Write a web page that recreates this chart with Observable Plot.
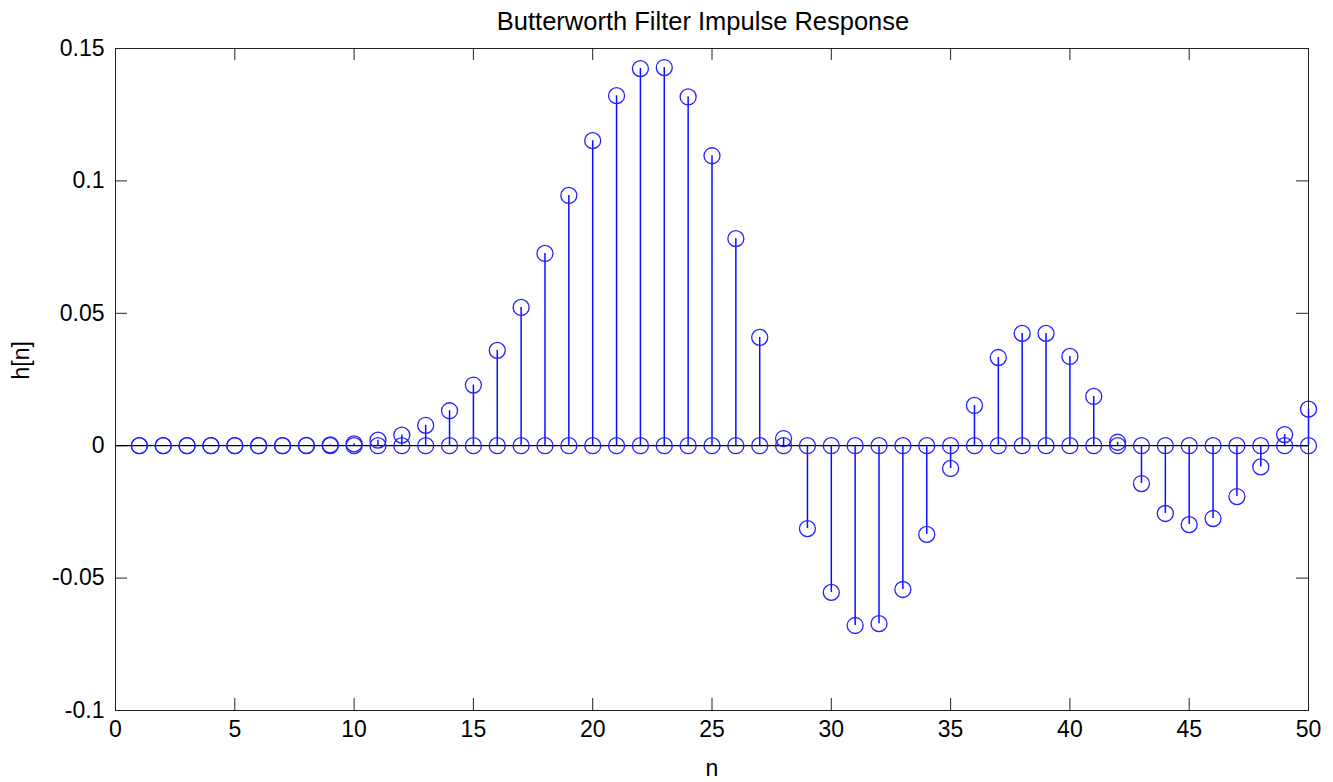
<!DOCTYPE html>
<html>
<head>
<meta charset="utf-8">
<script src="https://cdn.jsdelivr.net/npm/d3@7"></script>
<script src="https://cdn.jsdelivr.net/npm/@observablehq/plot@0.6"></script>
<style>
  html, body { margin: 0; padding: 0; background: #fff; }
</style>
</head>
<body>
<div id="chart"></div>
<script>
const title = "Butterworth Filter Impulse Response";
const xLabel = "n";
const yLabel = "h[n]";
const n = [1,2,3,4,5,6,7,8,9,10,11,12,13,14,15,16,17,18,19,20,21,22,23,24,25,26,27,28,29,30,31,32,33,34,35,36,37,38,39,40,41,42,43,44,45,46,47,48,49,50];
const h = [0,0,0,0,0,0,0,0.0001,0.0003,0.0007,0.0021,0.0040,0.0077,0.0132,0.0229,0.0360,0.0522,0.0726,0.0945,0.1152,0.1322,0.1424,0.1428,0.1317,0.1095,0.0782,0.0409,0.0027,-0.0313,-0.0554,-0.0679,-0.0672,-0.0543,-0.0335,-0.0086,0.0152,0.0333,0.0424,0.0424,0.0337,0.0186,0.0013,-0.0143,-0.0256,-0.0298,-0.0275,-0.0192,-0.0080,0.0042,0.0138];
const xTicks = [0,5,10,15,20,25,30,35,40,45,50];
const yTicks = [-0.1,-0.05,0,0.05,0.1,0.15];
const yTickLabels = ["-0.1","-0.05","0","0.05","0.1","0.15"];

const data = n.map((v, i) => ({n: v, h: h[i]}));
const font = "'Liberation Sans', Arial, Helvetica, sans-serif";
const H = 782, mT = 48, mB = 72;
const inner = H - mT - mB;
const tick = 12;

const chart = Plot.plot({
  width: 1333,
  height: H,
  marginLeft: 115,
  marginRight: 25,
  marginTop: mT,
  marginBottom: mB,
  style: {fontFamily: font, fontSize: "23px", color: "#000", background: "#fff"},
  x: {domain: [0, 50]},
  y: {domain: [-0.1, 0.15]},
  marks: [
    Plot.frame({stroke: "#222", strokeWidth: 1}),
    // inward ticks on all four sides
    Plot.ruleX(xTicks, {x: d => d, insetTop: inner - tick, stroke: "#222"}),
    Plot.ruleX(xTicks, {x: d => d, insetBottom: inner - tick, stroke: "#222"}),
    Plot.ruleY(yTicks, {y: d => d, insetRight: 1193 - tick, stroke: "#222"}),
    Plot.ruleY(yTicks, {y: d => d, insetLeft: 1193 - tick, stroke: "#222"}),
    Plot.axisX({ticks: xTicks, tickSize: 0, tickPadding: 10, label: null, fontSize: 23}),
    Plot.axisY({ticks: yTicks, tickSize: 0, tickPadding: 11, label: null, fontSize: 23,
      tickFormat: (d) => yTickLabels[yTicks.indexOf(d)]}),
    // baseline
    Plot.ruleY([0], {stroke: "#000", strokeWidth: 1.3}),
    // stems
    Plot.ruleX(data, {x: "n", y1: 0, y2: "h", stroke: "#0d0dff", strokeWidth: 1.5}),
    Plot.dot(data, {x: "n", y: 0, r: 8, stroke: "#2222ff", strokeWidth: 1.3, fill: "none"}),
    Plot.dot(data, {x: "n", y: "h", r: 8, stroke: "#2222ff", strokeWidth: 1.3, fill: "none"}),
    // title and labels
    Plot.text([title], {frameAnchor: "top", dy: -19, dx: -9, lineAnchor: "bottom", fontSize: 25.5, fill: "#000"}),
    Plot.text([xLabel], {frameAnchor: "bottom", dy: 65, lineAnchor: "bottom", fontSize: 23, fill: "#000"}),
    Plot.text([yLabel], {frameAnchor: "left", dx: -94, rotate: -90, lineAnchor: "middle", fontSize: 23, fill: "#000"})
  ]
});
document.getElementById("chart").appendChild(chart);
</script>
</body>
</html>
